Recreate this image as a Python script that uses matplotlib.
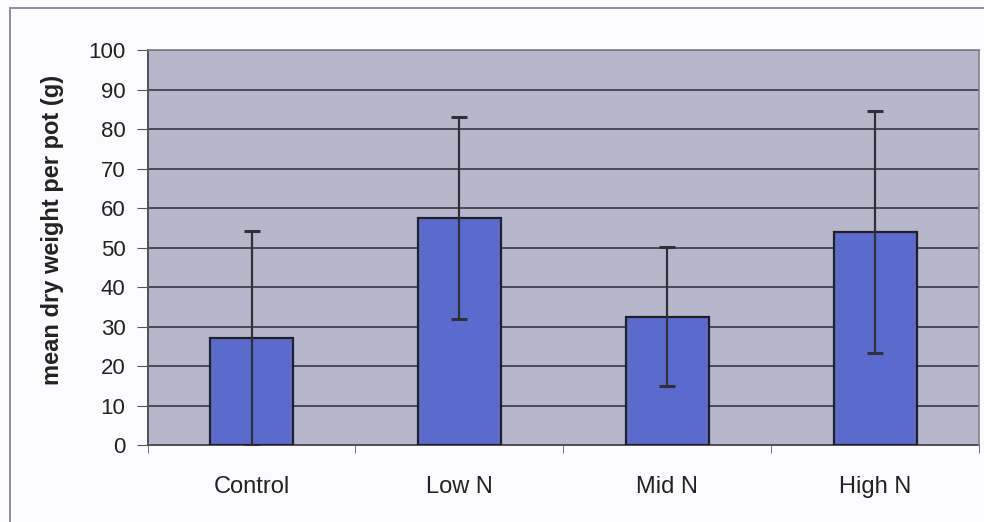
import numpy as np
import matplotlib
matplotlib.use("Agg")
import matplotlib.pyplot as plt
from matplotlib.lines import Line2D

categories = ["Control", "Low N", "Mid N", "High N"]
mean_weight = [27.0, 57.5, 32.5, 54.0]
err = [27.2, 25.6, 17.6, 30.6]
y_ticks = list(range(0, 101, 10))

plt.rcParams['font.family'] = ['Liberation Sans', 'DejaVu Sans']

fig = plt.figure(figsize=(9.84, 5.22), dpi=100)
fig.patch.set_facecolor('#fcfcfe')
ax = fig.add_axes([0.150, 0.1475, 0.845, 0.7565])
ax.set_facecolor('#b7b7cb')

x = np.arange(len(categories))
ax.bar(x, mean_weight, width=0.40, color='#5b6bcd', edgecolor='#202028',
       linewidth=1.6, zorder=3)
ax.errorbar(x, mean_weight, yerr=err, fmt='none', ecolor='#303038',
            elinewidth=1.6, capsize=6, capthick=2.2, zorder=4)

ax.set_xlim(-0.5, len(categories) - 0.5)
ax.set_ylim(0, 100)
ax.set_yticks(y_ticks)
ax.yaxis.grid(True, color='#4a4a55', linewidth=1.4, zorder=1)
ax.set_axisbelow(True)

ax.set_xticks(x)
ax.set_xticklabels(categories, fontsize=17, color='#222222')
ax.tick_params(axis='x', length=0, pad=22)
ax.set_xticks(np.arange(-0.5, len(categories)), minor=True)
ax.tick_params(axis='x', which='minor', length=6, color='#555555')
ax.tick_params(axis='y', labelsize=16, length=8, pad=8, color='#555555',
               labelcolor='#222222')

for s in ['top', 'right']:
    ax.spines[s].set_visible(False)
ax.spines['left'].set_color('#505058')
ax.spines['left'].set_linewidth(1.4)
ax.spines['bottom'].set_color('#505058')
ax.spines['bottom'].set_linewidth(1.4)
ax.plot([0, 1], [1, 1], transform=ax.transAxes, color='#808088', linewidth=1.2,
        clip_on=False, zorder=5)
ax.plot([1, 1], [0, 1], transform=ax.transAxes, color='#808088', linewidth=1.2,
        clip_on=False, zorder=5)

ax.set_ylabel("mean dry weight per pot (g)", fontsize=17, fontweight='bold',
              color='#222222')
ax.yaxis.set_label_coords(-0.100, 0.545)

# outer chart frame
fig.add_artist(Line2D([0.0105, 0.0105], [0.0, 0.985], color='#8c8ca0', linewidth=1.4))
fig.add_artist(Line2D([0.0105, 1.0], [0.985, 0.985], color='#8c8ca0', linewidth=1.4))

fig.savefig("out.png", dpi=100, facecolor=fig.get_facecolor())
